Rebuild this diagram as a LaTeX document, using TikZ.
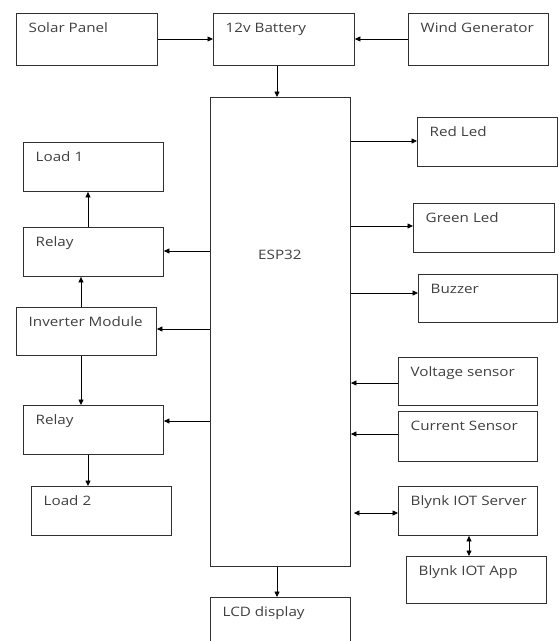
\documentclass[tikz,border=0pt]{standalone}
\usepackage{fontspec}
\setmainfont{Open Sans}[FakeStretch=1.17]
\usetikzlibrary{arrows.meta}
\definecolor{txt}{HTML}{404040}
\definecolor{ln}{HTML}{303030}
\tikzset{
  box/.style={draw=ln, line width=0.9pt, rectangle, anchor=north west, inner sep=0pt},
  lbl/.style={anchor=base west, inner sep=0pt, text=txt, font=\fontsize{13}{15}\selectfont},
  conn/.style={draw=black, line width=0.8pt, -{Triangle[length=5.5pt,width=5pt]}},
  dconn/.style={draw=black, line width=0.8pt, {Triangle[length=5.5pt,width=5pt]}-{Triangle[length=5.5pt,width=5pt]}},
}
\newcommand{\blk}[7]{%
  \node[box, minimum width=#4pt, minimum height=#5pt] (#1) at (#2,#3) {};
  \node[lbl] (#1T) at ([shift={(12.5,19)}]#1.north west) {#6};}
\begin{document}
\begin{tikzpicture}[x=1pt,y=-1pt]
\clip (0,0) rectangle (558,641);
\useasboundingbox (0,0) rectangle (558,641);
\fill[white] (0,0) rectangle (558,641);
% top row
\blk{solar}{16}{13}{141}{52}{Solar Panel}{}
\blk{batt}{213}{13}{141}{52}{12v Battery}{}
\blk{wind}{408}{13}{140}{52}{Wind Generator}{}
% ESP32
\node[box, minimum width=140pt, minimum height=469pt] (esp) at (210,97) {};
\node[lbl] (espT) at (258,259) {ESP32};
% left column
\blk{load1}{23}{142}{140}{49}{Load 1}{}
\blk{relay1}{23}{227}{140}{49}{Relay}{}
\blk{inv}{16}{307}{140}{48}{Inverter Module}{}
\blk{relay2}{23}{405}{140}{49}{Relay}{}
\blk{load2}{31}{486}{140}{49}{Load 2}{}
% right column
\blk{red}{417}{117}{140}{49}{Red Led}{}
\blk{green}{413}{203}{141}{49}{Green Led}{}
\blk{buzz}{418}{274}{139}{48}{Buzzer}{}
\blk{volt}{398}{357}{139}{48}{Voltage sensor}{}
\blk{curr}{398}{411}{139}{50}{Current Sensor}{}
\blk{serv}{398}{486}{139}{49}{Blynk IOT Server}{}
\blk{app}{406}{556}{140}{47}{Blynk IOT App}{}
% LCD
\blk{lcd}{210}{597}{140}{60}{LCD display}{}
% connectors
\draw[conn] (solar.east |- 0,39) -- (batt.west |- 0,39);
\draw[conn] (wind.west |- 0,39) -- (batt.east |- 0,39);
\draw[conn] (batt.south -| 277,0) -- (esp.north -| 277,0);
\draw[conn] (esp.west |- 0,251) -- (relay1.east |- 0,251);
\draw[conn] (relay1.north -| 88,0) -- (load1.south -| 88,0);
\draw[conn] (inv.north -| 81,0) -- (relay1.south -| 81,0);
\draw[conn] (esp.west |- 0,329) -- (inv.east |- 0,329);
\draw[conn] (inv.south -| 81,0) -- (relay2.north -| 81,0);
\draw[conn] (esp.west |- 0,421) -- (relay2.east |- 0,421);
\draw[conn] (relay2.south -| 88,0) -- (load2.north -| 88,0);
\draw[conn] (esp.east |- 0,141) -- (red.west |- 0,141);
\draw[conn] (esp.east |- 0,226) -- (green.west |- 0,226);
\draw[conn] (esp.east |- 0,293) -- (buzz.west |- 0,293);
\draw[conn] (volt.west |- 0,383) -- (esp.east |- 0,383);
\draw[conn] (curr.west |- 0,434) -- (esp.east |- 0,434);
\draw[dconn] ([xshift=3pt]esp.east |- 0,513) -- (serv.west |- 0,513);
\draw[dconn] (serv.south -| 469,0) -- (app.north -| 469,0);
\draw[conn] (esp.south -| 277,0) -- (lcd.north -| 277,0);
\end{tikzpicture}
\end{document}
